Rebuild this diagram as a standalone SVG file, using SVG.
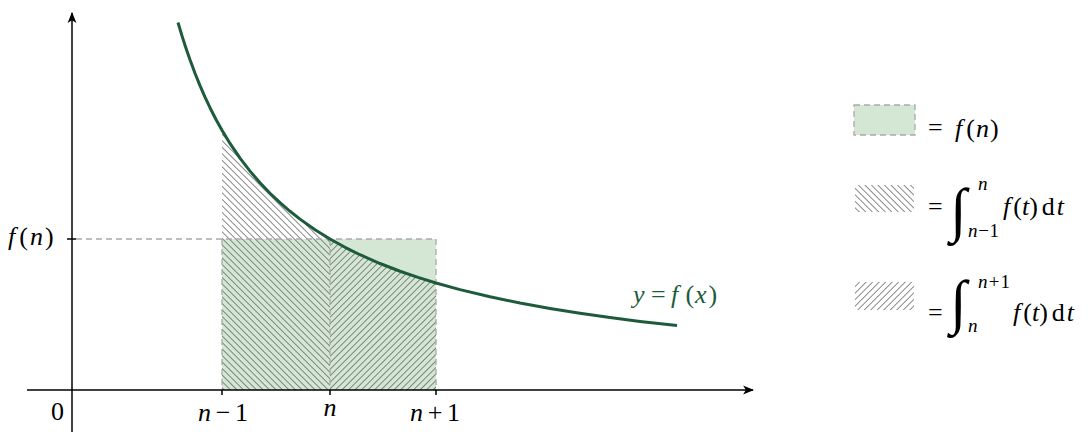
<svg xmlns="http://www.w3.org/2000/svg" width="1090" height="432" viewBox="0 0 1090 432">
<defs>
<style>
.t{font-family:"Liberation Serif","Times New Roman",serif;font-size:26px;fill:#000}
.i{font-style:italic}
.g{fill:#1d5b3b}
.sm{font-size:19px}
.int{font-family:"Liberation Serif","Times New Roman",serif;font-size:60px;fill:#000}
.dash{fill:none;stroke:#aaaaaa;stroke-width:1.3;stroke-dasharray:6,4}
.gf{fill:#d4e7d4}
.axis{fill:none;stroke:#000;stroke-width:1.5}
.curve{fill:none;stroke:#1d5b3b;stroke-width:3;stroke-linejoin:round}
</style>
<marker id="ar" viewBox="0 0 10 10" refX="9" refY="5" markerWidth="11" markerHeight="11" markerUnits="userSpaceOnUse" orient="auto">
<path d="M0,1 L10,5 L0,9 L2.5,5 Z" fill="#000"/>
</marker>
<pattern id="nw" width="4.6" height="4.6" patternUnits="userSpaceOnUse" patternTransform="rotate(-45)">
<line x1="2.3" y1="-1" x2="2.3" y2="6" stroke="#5a5a5a" stroke-width="0.7"/>
</pattern>
<pattern id="ne" width="4.6" height="4.6" patternUnits="userSpaceOnUse" patternTransform="rotate(45)">
<line x1="2.3" y1="-1" x2="2.3" y2="6" stroke="#5a5a5a" stroke-width="0.7"/>
</pattern>
</defs>
<rect width="1090" height="432" fill="#fff"/>

<g id="fnrect">
<rect x="222" y="239" width="214" height="151" class="gf"/>
</g>

<g id="hatch-left">
<path d="M222,390 L222,130.28 L230,143.43 L240,158.11 L250,171.13 L260,182.78 L270,193.24 L280,202.70 L290,211.29 L300,219.13 L315,229.68 L330,239 L330,390 Z" fill="url(#nw)"/>
</g>
<g id="hatch-right">
<path d="M330,390 L330,239 L345,247.30 L360,254.73 L380,263.51 L400,271.23 L418,277.40 L436,282.97 L436,390 Z" fill="url(#ne)"/>
</g>

<g id="connectors">
<path class="dash" d="M76,239 H436 V390 M222,239 V390 M330,239 V390"/>
<line class="axis" x1="72" y1="432" x2="72" y2="13" marker-end="url(#ar)"/>
<line class="axis" x1="27" y1="390" x2="753" y2="390" marker-end="url(#ar)"/>
<path class="axis" d="M222,390 V395 M330,390 V395 M436,390 V395 M67,239 H76"/>
</g>

<g id="curve">
<polyline class="curve" points="178,22.47 182,35.84 186,48.26 190,59.85 195,73.27 200,85.64 205,97.08 210,107.70 216,119.46 222,130.28 230,143.43 240,158.11 250,171.13 260,182.78 270,193.24 280,202.70 290,211.29 300,219.13 315,229.68 330,239.00 345,247.30 360,254.73 380,263.51 400,271.23 418,277.40 436,282.97 460,289.59 490,296.80 520,303.04 550,308.50 580,313.31 610,317.59 640,321.41 677,325.61"/>
<text class="t g" y="303"><tspan class="i" x="633">y</tspan><tspan x="651">=</tspan><tspan class="i" x="671">f</tspan><tspan x="685.5">(</tspan><tspan class="i" x="695">x</tspan><tspan x="708.5">)</tspan></text>
</g>

<g id="labels">
<text class="t" x="57.5" y="420" text-anchor="middle">0</text>
<text class="t" x="198" y="421" textLength="50" lengthAdjust="spacing"><tspan class="i">n</tspan> − 1</text>
<text class="t i" x="330" y="416" text-anchor="middle">n</text>
<text class="t" x="410" y="421" textLength="50" lengthAdjust="spacing"><tspan class="i">n</tspan> + 1</text>
<text class="t" x="8" y="245"><tspan class="i">f</tspan><tspan dx="4">(</tspan><tspan class="i" dx="2">n</tspan><tspan dx="2">)</tspan></text>
</g>

<g id="legend-fn">
<rect x="854" y="105" width="61" height="30" class="gf"/>
<rect x="854" y="105" width="61" height="30" class="dash"/>
<text class="t" x="928" y="136">=</text>
<text class="t" x="955" y="137"><tspan class="i">f</tspan><tspan dx="4">(</tspan><tspan class="i" dx="1">n</tspan><tspan dx="1">)</tspan></text>
</g>

<g id="legend-left">
<rect x="855" y="185" width="59" height="27" fill="url(#nw)"/>
<text class="t" x="928" y="215">=</text>
<text class="int" x="950" y="230">∫</text>
<text class="t sm i" x="978" y="190">n</text>
<text class="t sm" x="968" y="237" textLength="31" lengthAdjust="spacing"><tspan class="i">n</tspan>−1</text>
<text class="t" x="1003" y="215"><tspan class="i">f</tspan><tspan dx="3">(</tspan><tspan class="i">t</tspan>)<tspan dx="4">d</tspan><tspan class="i" dx="2">t</tspan></text>
</g>

<g id="legend-right">
<rect x="855" y="282" width="59" height="28" fill="url(#ne)"/>
<text class="t" x="928" y="321">=</text>
<text class="int" x="950" y="322">∫</text>
<text class="t sm" x="978" y="288" textLength="32" lengthAdjust="spacing"><tspan class="i">n</tspan>+1</text>
<text class="t sm i" x="968" y="332">n</text>
<text class="t" x="1013" y="321"><tspan class="i">f</tspan><tspan dx="3">(</tspan><tspan class="i">t</tspan>)<tspan dx="4">d</tspan><tspan class="i" dx="2">t</tspan></text>
</g>
</svg>
